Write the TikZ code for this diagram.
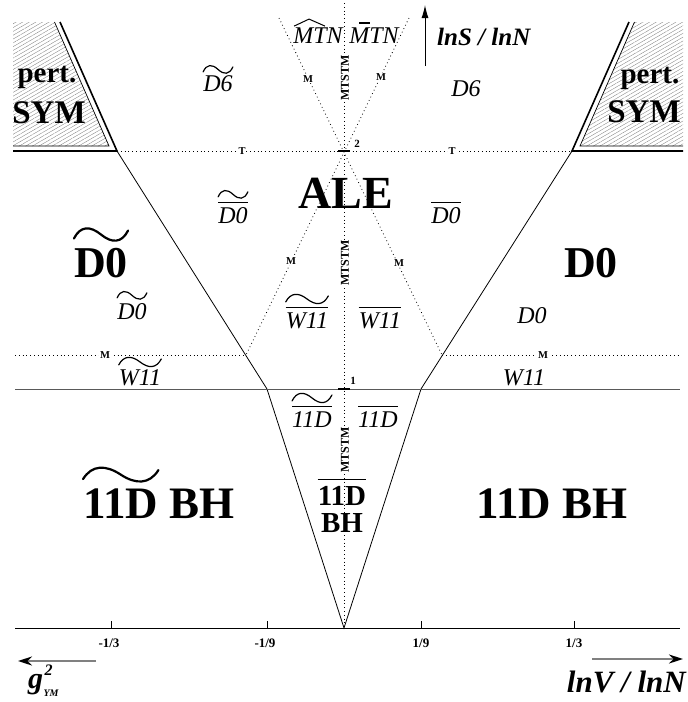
\documentclass[tikz,border=0pt]{standalone}
\usepackage{fontspec}
\setmainfont{Liberation Serif}
\usetikzlibrary{patterns.meta,arrows.meta,calc}
% tilde over a node: #1 node, #2 gap above its top, #3 amplitude, #4 line width
\newcommand\tld[4]{%
  \draw[line width=#4, line cap=round] let \p1=(#1.north west), \p2=(#1.north east), \n1={\x2-\x1} in
  (\x1,{\y1+#2}) .. controls ({\x1+0.12*\n1},{\y1+#2+1.6*#3}) and ({\x1+0.3*\n1},{\y1+#2+1.6*#3}) ..
  ({\x1+0.5*\n1},{\y1+#2+0.5*#3}) .. controls ({\x1+0.7*\n1},{\y1+#2-0.6*#3}) and ({\x1+0.88*\n1},{\y1+#2-0.6*#3}) ..
  (\x2,{\y1+#2+#3});}
% overline over a node: #1 node, #2 gap, #3 line width
\newcommand\ovl[3]{\draw[line width=#3] ([yshift=#2]#1.north west) -- ([yshift=#2]#1.north east);}
\begin{document}
\begin{tikzpicture}[x=1pt,y=-1pt,
  solidln/.style={line width=0.8pt, black},
  dotln/.style={line width=0.8pt, dash pattern=on 0.8pt off 3pt},
  ital/.style={inner sep=0pt, anchor=base, font=\fontsize{24}{26}\selectfont\itshape},
  bigb/.style={inner sep=0pt, anchor=base, font=\fontsize{45}{48}\selectfont\bfseries},
  midb/.style={inner sep=0pt, anchor=base, font=\fontsize{29}{31}\selectfont\bfseries},
  tinyb/.style={inner sep=0.6pt, fill=white, font=\fontsize{10.5}{11}\selectfont\bfseries},
  mtstm/.style={inner sep=0.6pt, fill=white, rotate=90, font=\fontsize{12}{13}\selectfont\bfseries},
  ticklab/.style={inner sep=0pt, font=\fontsize{13}{14}\selectfont\bfseries},
  hatch/.style={pattern={Lines[angle=30,distance=3.3pt,line width=0.35pt]}, pattern color=gray},
]
\useasboundingbox (0,0) rectangle (688,702);
% key points
\coordinate (LC) at (117,151);
\coordinate (RC) at (572,151);
\coordinate (LV) at (267,389);
\coordinate (RV) at (421,389);
\coordinate (AP) at (344,628);
\coordinate (X) at (344,151);
\coordinate (LM) at (246,355);
\coordinate (RM) at (442,355);
\coordinate (XLt) at (279,18);
\coordinate (XRt) at (409,18);
\coordinate (Vt) at (344,3);
\coordinate (H1l) at (15,389); \coordinate (H1r) at (680,389);
\coordinate (A0l) at (15,628); \coordinate (A0r) at (680,628);
\coordinate (D1l) at (15,355); \coordinate (D1r) at (680,355);
% hatched perturbative regions
\fill[hatch] (13,22) -- (54.5,22) -- (109,146) -- (13,146) -- cycle;
\fill[hatch] (683,22) -- (634.5,22) -- (580,146) -- (683,146) -- cycle;
\draw[line width=1.6pt, line join=miter] (60,22) -- (LC) -- (13,151);
\draw[line width=0.7pt, line join=miter] (54.5,22) -- (109,146) -- (13,146);
\draw[line width=1.6pt, line join=miter] (629,22) -- (RC) -- (683,151);
\draw[line width=0.7pt, line join=miter] (634.5,22) -- (580,146) -- (683,146);
% dotted lines
\draw[dotln] (Vt) -- (AP);
\draw[dotln] (XLt) -- (RM);
\draw[dotln] (XRt) -- (LM);
\draw[dotln] (LC) -- (RC);
\draw[dotln] (D1l) -- (LM);
\draw[dotln] (RM) -- (D1r);
% solid lines
\draw[solidln] (LC) -- (LV) -- (AP) -- (RV) -- (RC);
\draw[line width=1pt, black!65] (H1l) -- (H1r);
\draw[line width=0.7pt] (A0l) -- (A0r);
\foreach \tx in {111,267,421,574} \draw[line width=0.6pt] (\tx,621) -- (\tx,628);
\draw[line width=1.6pt] (338,151) -- (350,151);
\draw[line width=1.6pt] (338,389) -- (350,389);
% arrows
\draw[line width=1pt, -{Latex[length=13pt,width=7pt]}] (425,66) -- (425,5);
\draw[line width=2pt, gray, -{Stealth[length=14pt,width=9pt,black]}] (96,661) -- (18,661);
\draw[line width=2pt, gray, -{Stealth[length=14pt,width=9pt,black]}] (592,659) -- (683,659);
% pert SYM
\node[inner sep=0pt, anchor=base, font=\fontsize{29}{30}\selectfont\bfseries] (pertL) at (47,82) {pert.};
\node[inner sep=0pt, anchor=base, font=\fontsize{33}{34}\selectfont\bfseries] (symL) at (49,123) {SYM};
\node[inner sep=0pt, anchor=base, font=\fontsize{29}{30}\selectfont\bfseries] (pertR) at (650,83) {pert.};
\node[inner sep=0pt, anchor=base, font=\fontsize{33}{34}\selectfont\bfseries] (symR) at (644,122) {SYM};
% big labels
\node[bigb, font=\fontsize{46}{48}\selectfont\bfseries] (ale) at (346,208) {ALE};
\node[bigb, font=\fontsize{44}{48}\selectfont\bfseries] (d0L) at (101,277) {D0};
\tld{d0L}{9pt}{8pt}{2.2pt}
\node[bigb, font=\fontsize{44}{48}\selectfont\bfseries] (d0R) at (591,277) {D0};
\node[bigb, anchor=base west] (bhLa) at (83,518) {11D};
\node[bigb, anchor=base west] (bhLb) at ([xshift=11pt]bhLa.base east) {BH};
\tld{bhLa}{9pt}{9pt}{2.2pt}
\node[bigb] (bhR) at (552,518) {11D BH};
\node[midb] (c11) at (342,505) {11D};
\ovl{c11}{6pt}{1.4pt}
\node[midb] (cbh) at (342,532) {BH};
% italic labels
\node[ital] (mtnh) at (318,43) {MTN};
\draw[line width=1pt, line join=round] let \p1=(mtnh.north west), \p2=(mtnh.north east), \n1={\x2-\x1} in
  ({\x1+1pt},{\y1+1pt}) -- ({\x1+0.32*\n1},{\y1+8pt}) -- ({\x1+0.64*\n1},{\y1+1pt});
\node[ital] (mtnb) at (374,43) {MTN};
\draw[line width=1.2pt] let \p1=(mtnb.north west), \p2=(mtnb.north east), \n1={\x2-\x1} in
  ({\x1+0.2*\n1},{\y1+4pt}) -- ({\x1+0.42*\n1},{\y1+4pt});
\node[ital] (d6t) at (218,91) {D6};
\tld{d6t}{3pt}{5pt}{1.2pt}
\node[ital] (d6) at (466,96) {D6};
\node[ital] (d0tb) at (233,223) {D0};
\ovl{d0tb}{4pt}{1pt}
\tld{d0tb}{10pt}{5pt}{1.2pt}
\node[ital] (d0b) at (446,223) {D0};
\ovl{d0b}{4pt}{1pt}
\node[ital] (d0t) at (132,319) {D0};
\tld{d0t}{5pt}{5pt}{1.2pt}
\node[ital] (d0) at (532,323) {D0};
\node[ital] (w11tb) at (307,328) {W11};
\ovl{w11tb}{4pt}{1pt}
\tld{w11tb}{10pt}{6pt}{1.2pt}
\node[ital] (w11b) at (380,328) {W11};
\ovl{w11b}{4pt}{1pt}
\node[ital] (w11t) at (140,385) {W11};
\tld{w11t}{4pt}{6pt}{1.2pt}
\node[ital] (w11) at (524,385) {W11};
\node[ital] (d11tb) at (312,427) {11D};
\ovl{d11tb}{4pt}{1pt}
\tld{d11tb}{10pt}{6pt}{1.2pt}
\node[ital] (d11b) at (378,427) {11D};
\ovl{d11b}{4pt}{1pt}
% small marks
\node[tinyb] (m1) at (308,79) {M};
\node[tinyb] (m2) at (381,77) {M};
\node[tinyb] (m3) at (291,261) {M};
\node[tinyb] (m4) at (399,263) {M};
\node[tinyb] (m5) at (105,355) {M};
\node[tinyb] (m6) at (543,355) {M};
\node[tinyb] (t1) at (242,151) {T};
\node[tinyb] (t2) at (452,151) {T};
\node[mtstm] (ms1) at (345,78) {MTSTM};
\node[mtstm] (ms2) at (345,263) {MTSTM};
\node[mtstm] (ms3) at (345,450) {MTSTM};
\node[inner sep=0pt, font=\fontsize{11}{12}\selectfont\bfseries] (two) at (357,144) {2};
\node[inner sep=0pt, font=\fontsize{11}{12}\selectfont\bfseries] (one) at (353,381) {1};
% axis labels
\node[ticklab] (tl1) at (109,643) {-1/3};
\node[ticklab] (tl2) at (265,643) {-1/9};
\node[ticklab] (tl3) at (421,643) {1/9};
\node[ticklab] (tl4) at (574,643) {1/3};
\node[anchor=base west, inner sep=0pt, font=\fontsize{25}{26}\selectfont\bfseries\itshape] (lns) at (437,45) {lnS / lnN};
\node[anchor=base east, inner sep=0pt, font=\fontsize{31}{32}\selectfont\bfseries\itshape] (lnv) at (686,692) {lnV / lnN};
\node[anchor=base west, inner sep=0pt, font=\fontsize{30}{31}\selectfont\bfseries\itshape] (gym) at (28,688) {g};
\node[anchor=base west, inner sep=0pt, font=\fontsize{16}{17}\selectfont\bfseries\itshape] (gsup) at ([xshift=1pt]gym.base east |- 0,675) {2};
\node[anchor=base west, inner sep=0pt, font=\fontsize{10}{11}\selectfont\bfseries\itshape] (gsub) at ([xshift=0pt]gym.base east |- 0,696) {YM};
\end{tikzpicture}
\end{document}
